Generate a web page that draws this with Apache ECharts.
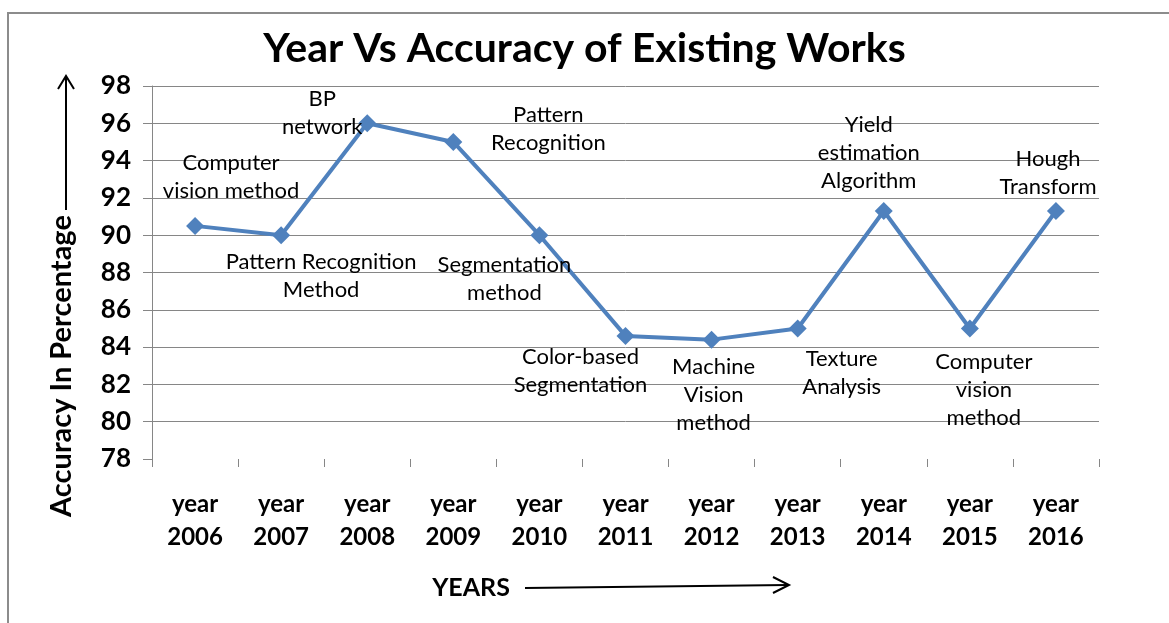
<!DOCTYPE html>
<html>
<head>
<meta charset="utf-8">
<script src="https://cdn.jsdelivr.net/npm/echarts@6/dist/echarts.min.js"></script>
<style>
  html, body { margin: 0; padding: 0; background: #fff; }
  #chart { width: 1169px; height: 623px; }
</style>
</head>
<body>
<div id="chart"></div>
<script>
// data
const categories = ['year 2006', 'year 2007', 'year 2008', 'year 2009', 'year 2010', 'year 2011',
  'year 2012', 'year 2013', 'year 2014', 'year 2015', 'year 2016']
const accuracy = [90.5, 90, 96, 95, 90, 84.6, 84.4, 85, 91.3, 85, 91.3]
const methods = [
  'Computer\nvision method',
  'Pattern Recognition\nMethod',
  'BP\nnetwork',
  'Pattern\nRecognition',
  'Segmentation\nmethod',
  'Color-based\nSegmentation',
  'Machine\nVision\nmethod',
  'Texture\nAnalysis',
  'Yield\nestimation\nAlgorithm',
  'Computer\nvision\nmethod',
  'Hough\nTransform',
]
const yTicks = { min: 78, max: 98, interval: 2 }

// where each note sits relative to its point (layout only)
const noteOffsets = [
  [36, -49], [40, 41], [-45, -10], [95, -13], [-35, 44], [-45, 35],
  [2, 55], [44, 44], [-15, -58], [14, 61], [-8, -38],
]

const FONT = 'Lato, "Open Sans", sans-serif'
const chart = echarts.init(document.getElementById('chart'))

const seriesData = accuracy.map((v, i) => ({
  value: v,
  label: { formatter: methods[i], offset: noteOffsets[i] },
}))

chart.setOption({
  animation: false,
  backgroundColor: '#fff',
  title: {
    text: 'Year Vs Accuracy of Existing Works',
    left: 'center',
    top: 23,
    textStyle: { fontFamily: FONT, fontSize: 41, fontWeight: 'bold', color: '#000' },
  },
  grid: { left: 152, right: 70, top: 86, bottom: 164 },
  xAxis: {
    type: 'category',
    data: categories,
    boundaryGap: true,
    axisLine: { show: false },
    axisTick: { show: true, length: 8, lineStyle: { color: '#868686', width: 1 } },
    axisLabel: {
      formatter: (s) => s.replace(' ', '\n'),
      fontFamily: FONT, fontSize: 24, fontWeight: 'bold', color: '#000',
      lineHeight: 33, margin: 29,
    },
    splitLine: { show: false },
  },
  yAxis: {
    type: 'value',
    min: yTicks.min,
    max: yTicks.max,
    interval: yTicks.interval,
    axisLine: { show: true, lineStyle: { color: '#868686', width: 1 } },
    axisTick: { show: true, length: 9, lineStyle: { color: '#868686', width: 1 } },
    axisLabel: { fontFamily: FONT, fontSize: 26, fontWeight: 'bold', color: '#000', margin: 21 },
    splitLine: { show: true, showMinLine: false, lineStyle: { color: '#868686', width: 1 } },
  },
  series: [{
    type: 'line',
    data: seriesData,
    symbol: 'diamond',
    symbolSize: 18,
    itemStyle: { color: '#4F81BD' },
    lineStyle: { color: '#4F81BD', width: 4 },
    label: {
      show: true,
      position: 'inside',
      align: 'center',
      verticalAlign: 'middle',
      fontFamily: FONT, fontSize: 22, color: '#000', lineHeight: 28,
    },
    z: 3,
  }],
  graphic: [
    // outer frame
    { type: 'rect', shape: { x: 8, y: 13, width: 1200, height: 700 }, style: { fill: 'none', stroke: '#8c8c8c', lineWidth: 2 }, silent: true },
    // y-axis caption and arrow
    {
      type: 'text', x: 62, y: 366, rotation: Math.PI / 2,
      style: { text: 'Accuracy In Percentage', font: 'bold 29px ' + FONT, fill: '#000',
        textAlign: 'center', textVerticalAlign: 'middle', align: 'center', verticalAlign: 'middle' },
    },
    { type: 'line', shape: { x1: 66, y1: 210, x2: 66, y2: 77 }, style: { stroke: '#000', lineWidth: 2 } },
    { type: 'polyline', shape: { points: [[58, 89], [66, 76], [74, 89]] }, style: { stroke: '#000', lineWidth: 2, fill: 'none' } },
    // x-axis caption and arrow
    {
      type: 'text', x: 471, y: 588,
      style: { text: 'YEARS', font: 'bold 25px ' + FONT, fill: '#000',
        textAlign: 'center', textVerticalAlign: 'middle', align: 'center', verticalAlign: 'middle' },
    },
    { type: 'line', shape: { x1: 525, y1: 588, x2: 788, y2: 585 }, style: { stroke: '#000', lineWidth: 2 } },
    { type: 'polyline', shape: { points: [[773, 577], [789, 585], [773, 593]] }, style: { stroke: '#000', lineWidth: 2, fill: 'none' } },
  ],
})
</script>
</body>
</html>
